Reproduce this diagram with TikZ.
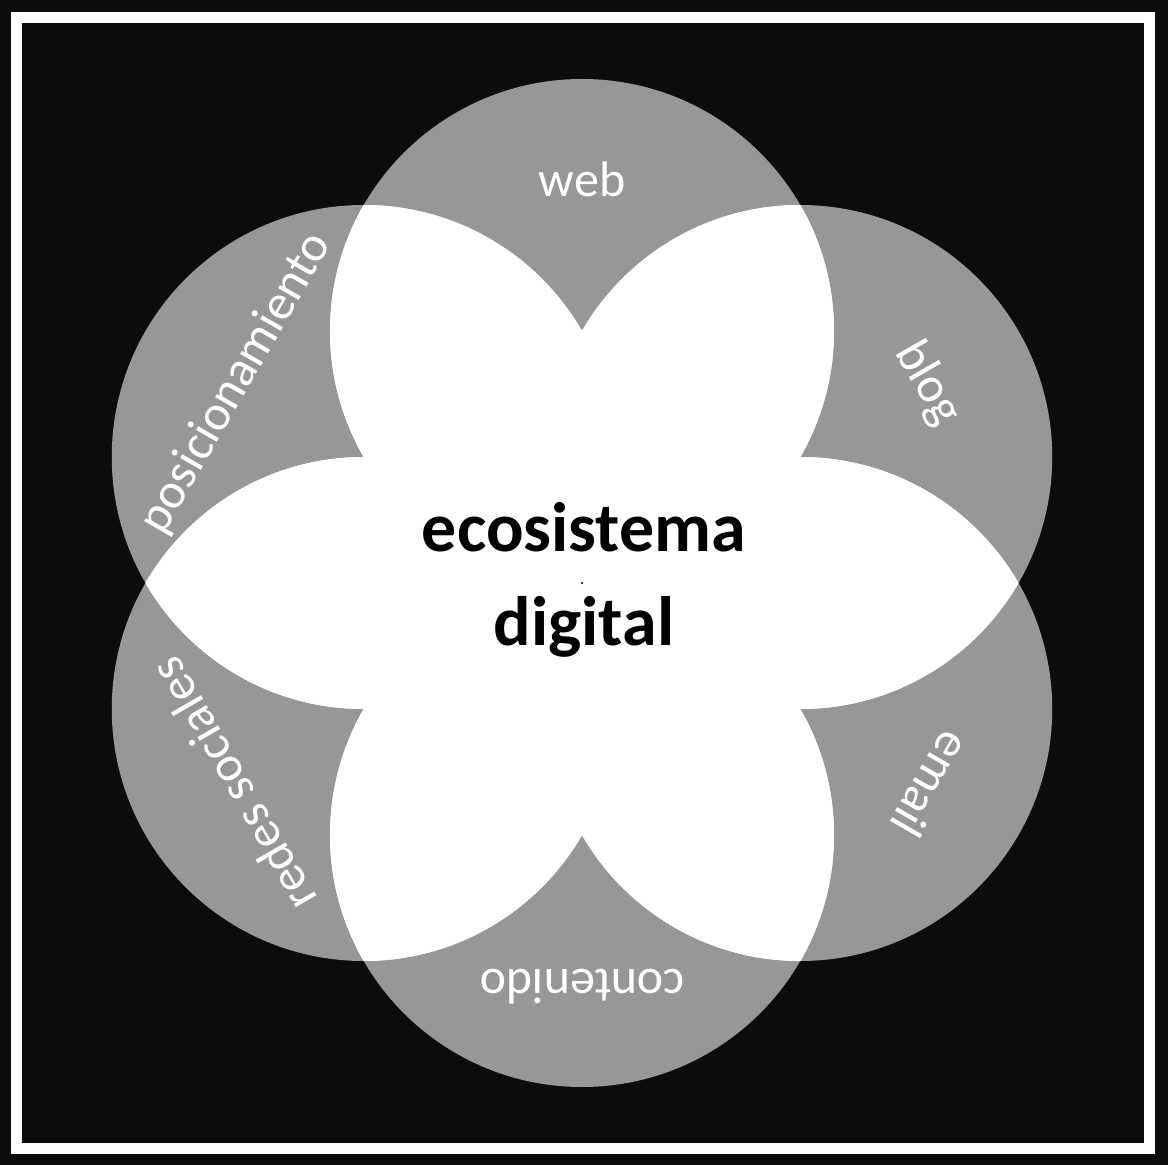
\documentclass[tikz,border=0pt]{standalone}
\usepackage{fontspec}
\setmainfont{Carlito}
\definecolor{bgblack}{RGB}{11,12,14}
\definecolor{petalgray}{RGB}{152,151,149}
\begin{document}
\begin{tikzpicture}[x=1pt,y=1pt,
  lbl/.style={text=white, font=\fontsize{50}{60}\selectfont, anchor=base, inner sep=0pt},
  ctr/.style={text=black, font=\bfseries\fontsize{70}{84}\selectfont, anchor=base, inner sep=0pt},
  frame/.style={draw=white, line width=11pt}]
\useasboundingbox (-582,-582) rectangle (586,583);
\fill[bgblack] (-582,-582) rectangle (586,583);
\draw[frame] (-565,-565) rectangle (567.5,565);
% six circles
\foreach \a in {90,30,-30,-90,-150,150}
  \fill[petalgray] (\a:252pt) circle[radius=252pt];
% overlaps of two circles are white
\foreach \a in {90,30,-30,-90,-150,150}{
  \begin{scope}
    \clip (\a:252pt) circle[radius=252pt];
    \foreach \b in {90,30,-30,-90,-150,150}{
      \ifnum\a=\b\relax\else
        \fill[white] (\b:252pt) circle[radius=252pt];
      \fi
    }
  \end{scope}
}
% centre texts
\node[ctr] (eco) at (2,31) {ecosistema};
\node[ctr] (dig) at (2,-62) {digital};
\fill[black] (0,0) circle[radius=1.2pt];
% labels
\node[lbl, rotate=0]    (web)  at (90:386pt)   {web};
\node[lbl, rotate=-60]  (blog) at (30:386pt)   {blog};
\node[lbl, rotate=-120] (mail) at (-30:386pt)  {email};
\node[lbl, rotate=180]  (cont) at (-90:386pt)  {contenido};
\node[lbl, rotate=120]  (red)  at (-150:386pt) {redes sociales};
\node[lbl, rotate=60]   (pos)  at (150:386pt)  {posicionamiento};
\end{tikzpicture}
\end{document}
